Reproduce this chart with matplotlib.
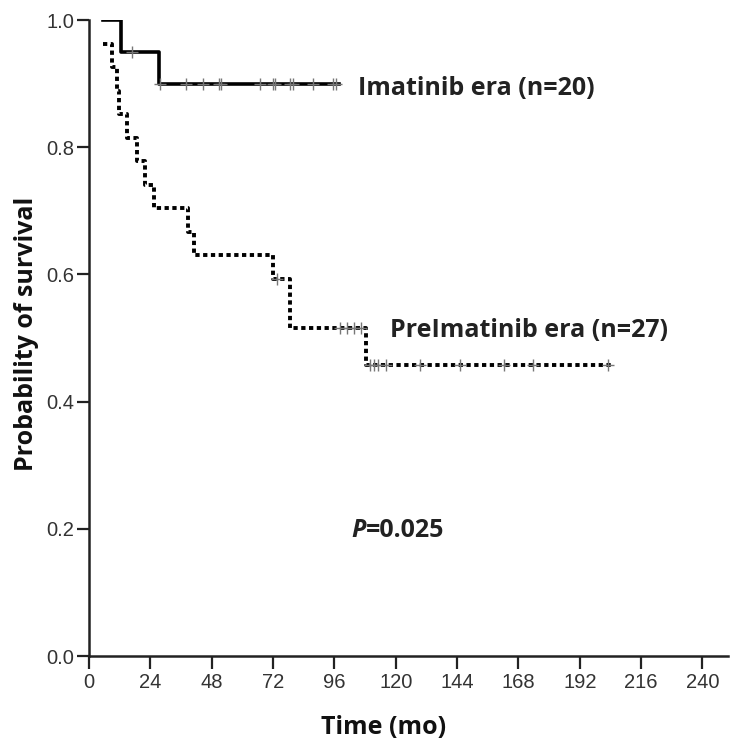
import matplotlib
matplotlib.use("Agg")
import matplotlib.pyplot as plt

# Imatinib era (solid)
ima_times = [5.5, 12.4, 27.2, 98.0]
ima_surv = [1.0, 0.95, 0.90, 0.90]
ima_cens_t = [16.8, 27.8, 37.9, 44.6, 50.9, 51.6, 66.8, 72.1, 72.9, 78.6, 79.9, 87.7, 95.5, 96.6]
ima_cens_s = [0.95, 0.90, 0.90, 0.90, 0.90, 0.90, 0.90, 0.90, 0.90, 0.90, 0.90, 0.90, 0.90, 0.90]

# PreImatinib era (dotted)
pre_times = [5.3, 8.9, 10.8, 11.7, 15.0, 18.9, 21.9, 25.4, 38.8, 41.0, 72.0, 78.6, 108.5, 205.0]
pre_surv = [0.963, 0.926, 0.889, 0.852, 0.815, 0.778, 0.741, 0.704, 0.667, 0.630, 0.593, 0.515, 0.458, 0.458]
pre_cens_t = [73.5, 98.1, 101.0, 103.7, 106.6, 109.8, 111.5, 113.0, 116.3, 129.4, 145.0, 162.2, 173.9, 203.0]
pre_cens_s = [0.593, 0.515, 0.515, 0.515, 0.515, 0.458, 0.458, 0.458, 0.458, 0.458, 0.458, 0.458, 0.458, 0.458]

x_ticks = [0, 24, 48, 72, 96, 120, 144, 168, 192, 216, 240]
y_ticks = [0.0, 0.2, 0.4, 0.6, 0.8, 1.0]

fig = plt.figure(figsize=(7.3, 7.44), dpi=100)
ax = fig.add_axes([89/730, 1-656/744, (728-89)/730, (656-20)/744])

ax.step(pre_times, pre_surv, where='post', color='black', lw=2.8,
        linestyle=(0, (1.1, 0.9)), dash_capstyle='butt', zorder=3)
ax.step(ima_times, ima_surv, where='post', color='black', lw=2.6, zorder=4)
ax.plot(ima_cens_t, ima_cens_s, linestyle='none', marker='+', ms=8, mew=1.0, color='#777777', zorder=5)
ax.plot(pre_cens_t, pre_cens_s, linestyle='none', marker='+', ms=8, mew=1.0, color='#777777', zorder=5)

ax.set_xlim(0, 250)
ax.set_ylim(0, 1.0)
ax.set_xticks(x_ticks)
ax.set_yticks(y_ticks)
ax.set_xticklabels([str(t) for t in x_ticks], family=['Liberation Sans', 'DejaVu Sans'],
                   fontsize=14.5, color='#333333')
ax.set_yticklabels(['%.1f' % t for t in y_ticks], family=['Liberation Sans', 'DejaVu Sans'],
                   fontsize=14.5, color='#333333')
ax.tick_params(axis='both', direction='out', length=9, width=1.6, color='#222222')
ax.tick_params(axis='x', pad=3)
ax.tick_params(axis='y', pad=1.5)
for s in ['top', 'right']:
    ax.spines[s].set_visible(False)
for s in ['left', 'bottom']:
    ax.spines[s].set_linewidth(1.8)
    ax.spines[s].set_color('#222222')

lab_font = ['Open Sans', 'DejaVu Sans']
ax.set_xlabel('Time (mo)', family=lab_font, fontweight='bold', fontsize=18, color='#111111')
ax.xaxis.set_label_coords((383.5-89)/639, (656-727)/636)
ax.xaxis.label.set_va('center')
ax.set_ylabel('Probability of survival', family=lab_font, fontweight='bold', fontsize=18, color='#111111')
ax.yaxis.set_label_coords((26-89)/639, (656-471)/636)
ax.yaxis.label.set_va('center')
ax.yaxis.label.set_ha('left')

ax.text(105.2, 0.893, 'Imatinib era (n=20)', family=lab_font, fontweight='bold', fontsize=18,
        color='#222222', va='center', ha='left')
ax.text(117.7, 0.512, 'PreImatinib era (n=27)', family=lab_font, fontweight='bold', fontsize=18,
        color='#222222', va='center', ha='left')
tp = ax.text(102.8, 0.197, 'P', family=lab_font, fontweight='bold', fontstyle='italic', fontsize=18,
             color='#222222', va='center', ha='left')
ax.annotate('=0.025', xy=(1.0, 0.5), xycoords=tp, family=lab_font, fontweight='bold', fontsize=18,
            color='#222222', va='center', ha='left')
fig.savefig('out.png', dpi=100)
